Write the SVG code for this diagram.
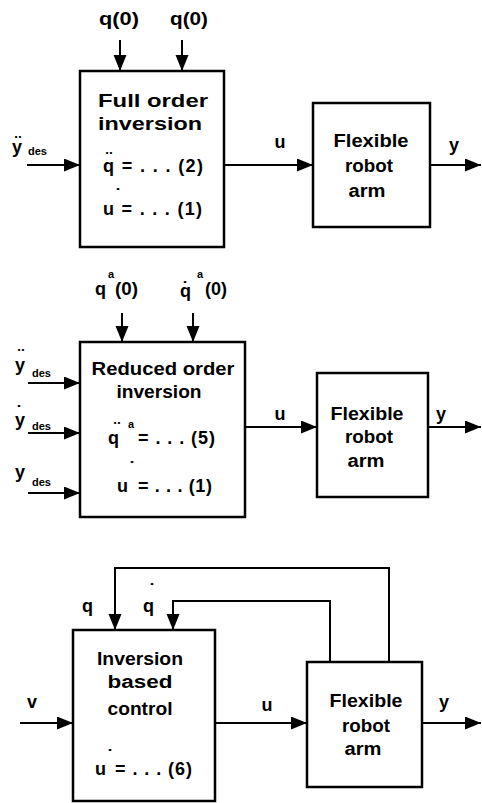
<svg xmlns="http://www.w3.org/2000/svg" width="482" height="803" viewBox="0 0 482 803">
<style>
text{font-family:"Liberation Sans",Arial,sans-serif;font-weight:bold;font-size:18px;fill:#000}
.m{text-anchor:middle}
.s{font-size:11px}
.w{font-size:19px}
.box{fill:#fff;stroke:#000;stroke-width:2.5}
.ln{fill:none;stroke:#000;stroke-width:2}
.ar{marker-end:url(#ah)}
</style>
<defs>
<marker id="ah" markerUnits="userSpaceOnUse" markerWidth="17" markerHeight="14" refX="16" refY="6.5" orient="auto">
<path d="M0,0 L16,6.5 L0,13 z" fill="#000"/>
</marker>
</defs>
<g id="connectors">
<line class="ln ar" x1="120" y1="40" x2="120" y2="71"/>
<line class="ln ar" x1="182" y1="40" x2="182" y2="71"/>
<line class="ln ar" x1="27" y1="165" x2="80" y2="165"/>
<line class="ln ar" x1="224" y1="165" x2="313" y2="165"/>
<line class="ln ar" x1="430" y1="165" x2="481" y2="165"/>
<line class="ln ar" x1="122" y1="313" x2="122" y2="342"/>
<line class="ln ar" x1="193" y1="313" x2="193" y2="342"/>
<line class="ln ar" x1="28" y1="383" x2="80" y2="383"/>
<line class="ln ar" x1="28" y1="433" x2="80" y2="433"/>
<line class="ln ar" x1="28" y1="493" x2="80" y2="493"/>
<line class="ln ar" x1="245" y1="427" x2="317" y2="427"/>
<line class="ln ar" x1="428" y1="427" x2="481" y2="427"/>
<polyline class="ln ar" points="389,662 389,568 115,568 115,630"/>
<polyline class="ln ar" points="330,662 330,601 173,601 173,630"/>
<line class="ln ar" x1="20" y1="723" x2="73" y2="723"/>
<line class="ln ar" x1="215" y1="723" x2="307" y2="723"/>
<line class="ln ar" x1="422" y1="723" x2="481" y2="723"/>
</g>
<g id="labels">
<text class="m" x="119" y="25" textLength="40" lengthAdjust="spacingAndGlyphs">q(0)</text>
<text class="m" x="189" y="25" textLength="38" lengthAdjust="spacingAndGlyphs">q(0)</text>
<text x="12" y="153">y</text><text class="m" x="18" y="149">¨</text><text class="s" x="28" y="155">des</text>
<text class="m" x="280" y="148">u</text>
<text class="m" x="454" y="151">y</text>
<text x="95" y="295">q</text><text class="s" x="108" y="278">a</text><text x="115" y="295" textLength="23" lengthAdjust="spacingAndGlyphs">(0)</text>
<text x="180" y="297">q</text><text class="m" x="185" y="295">˙</text><text class="s" x="197" y="278">a</text><text x="205" y="295" textLength="22" lengthAdjust="spacingAndGlyphs">(0)</text>
<text x="15" y="371">y</text><text class="m" x="21" y="362">¨</text><text class="s" x="32" y="377">des</text>
<text x="15" y="426">y</text><text class="m" x="19" y="419">˙</text><text class="s" x="32" y="430">des</text>
<text x="15" y="478">y</text><text class="s" x="32" y="486">des</text>
<text class="m" x="280" y="420">u</text>
<text class="m" x="441" y="420">y</text>
<text x="82" y="612">q</text>
<text x="143" y="612">q</text><text class="m" x="152" y="597">˙</text>
<text x="27" y="708">v</text>
<text class="m" x="267" y="711">u</text>
<text class="m" x="444" y="708">y</text>
</g>
<g id="full-order-inversion">
<rect class="box" x="80" y="71" width="144" height="176"/>
<text class="m w" x="153" y="107" textLength="110" lengthAdjust="spacingAndGlyphs">Full order</text>
<text class="m w" x="150" y="130" textLength="104" lengthAdjust="spacingAndGlyphs">inversion</text>
<text x="103" y="172" textLength="100">q = . . . (2)</text><text class="m" x="109" y="165">¨</text>
<text x="103" y="215" textLength="99">u = . . . (1)</text><text class="m" x="118" y="202">˙</text>
</g>
<g id="robot-arm-1">
<rect class="box" x="313" y="103" width="117" height="124"/>
<text class="m" x="371" y="147" textLength="75" lengthAdjust="spacingAndGlyphs">Flexible</text>
<text class="m" x="369" y="172" textLength="48" lengthAdjust="spacingAndGlyphs">robot</text>
<text class="m" x="367" y="197" textLength="37" lengthAdjust="spacingAndGlyphs">arm</text>
</g>
<g id="reduced-order-inversion">
<rect class="box" x="80" y="342" width="165" height="175"/>
<text class="m" x="163" y="375" textLength="143" lengthAdjust="spacingAndGlyphs">Reduced order</text>
<text class="m" x="159" y="398" textLength="85" lengthAdjust="spacingAndGlyphs">inversion</text>
<text x="108" y="444">q</text><text class="m" x="117" y="435">¨</text><text class="s" x="128" y="428">a</text><text x="138" y="444" textLength="77">= . . . (5)</text>
<text x="117" y="492">u</text><text class="m" x="132" y="475">˙</text><text x="138" y="492" textLength="74">= . . . (1)</text>
</g>
<g id="robot-arm-2">
<rect class="box" x="317" y="373" width="111" height="124"/>
<text class="m" x="367" y="420" textLength="73" lengthAdjust="spacingAndGlyphs">Flexible</text>
<text class="m" x="369" y="443" textLength="48" lengthAdjust="spacingAndGlyphs">robot</text>
<text class="m" x="366" y="467" textLength="37" lengthAdjust="spacingAndGlyphs">arm</text>
</g>
<g id="inversion-based-control">
<rect class="box" x="73" y="630" width="142" height="171"/>
<text class="m" x="140" y="665" textLength="86" lengthAdjust="spacingAndGlyphs">Inversion</text>
<text class="m" x="140" y="688" textLength="65" lengthAdjust="spacingAndGlyphs">based</text>
<text class="m" x="140" y="715" textLength="65" lengthAdjust="spacingAndGlyphs">control</text>
<text x="95" y="775">u</text><text class="m" x="110" y="763">˙</text><text x="115" y="775" textLength="77">= . . . (6)</text>
</g>
<g id="robot-arm-3">
<rect class="box" x="307" y="662" width="115" height="125"/>
<text class="m" x="366" y="707" textLength="73" lengthAdjust="spacingAndGlyphs">Flexible</text>
<text class="m" x="366" y="732" textLength="48" lengthAdjust="spacingAndGlyphs">robot</text>
<text class="m" x="363" y="755" textLength="37" lengthAdjust="spacingAndGlyphs">arm</text>
</g>
</svg>
